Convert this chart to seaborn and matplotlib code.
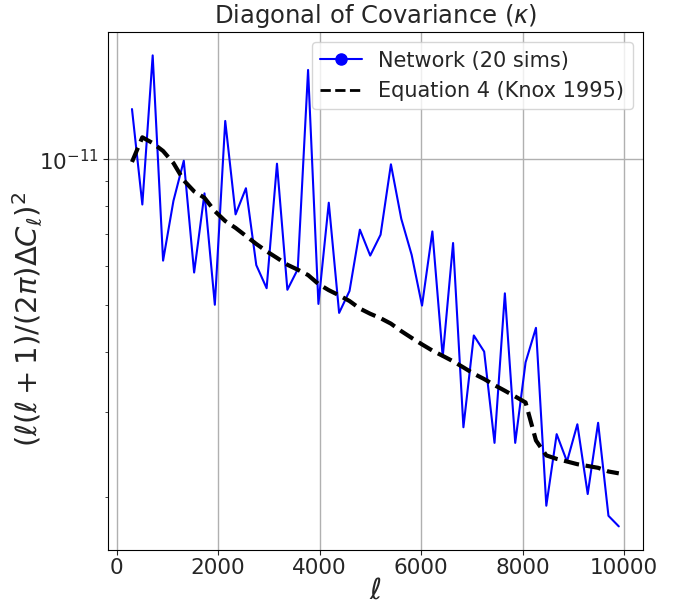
import numpy as np
import pandas as pd
import matplotlib
matplotlib.use("Agg")
import matplotlib.pyplot as plt
from matplotlib.lines import Line2D
from matplotlib.ticker import NullFormatter
import seaborn as sns

# multipole bin centres (48 bins between 200 and 10000)
ell = [302, 506, 710, 915, 1119, 1323, 1527, 1731, 1935, 2140, 2344, 2548,
       2752, 2956, 3160, 3365, 3569, 3773, 3977, 4181, 4385, 4590, 4794, 4998,
       5202, 5406, 5610, 5815, 6019, 6223, 6427, 6631, 6835, 7040, 7244, 7448,
       7652, 7856, 8060, 8265, 8469, 8673, 8877, 9081, 9285, 9490, 9694, 9898]

# network estimate (20 sims)
network = [1.27e-11, 8.06e-12, 1.64e-11, 6.17e-12, 8.20e-12, 9.93e-12, 5.83e-12, 8.50e-12,
           5.00e-12, 1.20e-11, 7.69e-12, 8.71e-12, 6.04e-12, 5.41e-12, 9.79e-12, 5.37e-12,
           5.92e-12, 1.53e-11, 5.02e-12, 8.13e-12, 4.81e-12, 5.34e-12, 7.15e-12, 6.32e-12,
           6.98e-12, 9.76e-12, 7.53e-12, 6.34e-12, 4.98e-12, 7.09e-12, 3.90e-12, 6.71e-12,
           2.79e-12, 4.32e-12, 4.00e-12, 2.59e-12, 5.28e-12, 2.59e-12, 3.80e-12, 4.48e-12,
           1.92e-12, 2.70e-12, 2.37e-12, 2.83e-12, 2.03e-12, 2.85e-12, 1.83e-12, 1.74e-12]

# Knox 1995 formula
knox = [9.87e-12, 1.11e-11, 1.08e-11, 1.04e-11, 9.82e-12, 9.04e-12, 8.58e-12, 8.32e-12,
        7.81e-12, 7.45e-12, 7.21e-12, 6.94e-12, 6.68e-12, 6.45e-12, 6.25e-12, 6.05e-12,
        5.91e-12, 5.76e-12, 5.52e-12, 5.36e-12, 5.23e-12, 5.09e-12, 4.91e-12, 4.79e-12,
        4.69e-12, 4.57e-12, 4.41e-12, 4.27e-12, 4.14e-12, 4.02e-12, 3.92e-12, 3.82e-12,
        3.71e-12, 3.60e-12, 3.51e-12, 3.41e-12, 3.32e-12, 3.23e-12, 3.14e-12, 2.62e-12,
        2.44e-12, 2.40e-12, 2.37e-12, 2.34e-12, 2.32e-12, 2.30e-12, 2.26e-12, 2.24e-12]

yticks = [1e-11]
xticks = [0, 2000, 4000, 6000, 8000, 10000]

sns.set_style("ticks")
plt.rcParams['font.family'] = ['DejaVu Sans']

df = pd.DataFrame({'ell': ell, 'network': network, 'knox': knox})

fig = plt.figure(figsize=(6.77, 6.06), dpi=100)
ax = fig.add_axes([0.159, 0.0925, 0.791, 0.855])

sns.lineplot(data=df, x='ell', y='network', color='blue', linewidth=1.5, ax=ax)
sns.lineplot(data=df, x='ell', y='knox', color='black', linewidth=3,
             linestyle='--', ax=ax)

ax.set_yscale('log')
ax.set_yticks(yticks)
ax.yaxis.set_minor_formatter(NullFormatter())
ax.set_xticks(xticks)
ax.grid(True, which='major', color='#b0b0b0', linewidth=1)
ax.tick_params(axis='both', which='major', labelsize=15.5, length=3.5, pad=2.5)
ax.tick_params(axis='y', which='minor', length=2.5)

ax.set_title(r'Diagonal of Covariance ($\kappa$)', fontsize=17.5)
ax.set_xlabel(r'$\ell$', fontsize=21, labelpad=-1)
ax.set_ylabel(r'$(\ell(\ell+1)/(2\pi)\Delta C_\ell)^2$', fontsize=21)
ax.yaxis.set_label_coords(-0.117, 0.445)

for s in ax.spines.values():
    s.set_color('black')

handles = [Line2D([], [], color='blue', marker='o', markersize=8, linewidth=1.5),
           Line2D([], [], color='black', linestyle='--', linewidth=2)]
ax.legend(handles, ['Network (20 sims)', 'Equation 4 (Knox 1995)'],
          loc='upper right', fontsize=15)

fig.savefig('out.png', dpi=100)
